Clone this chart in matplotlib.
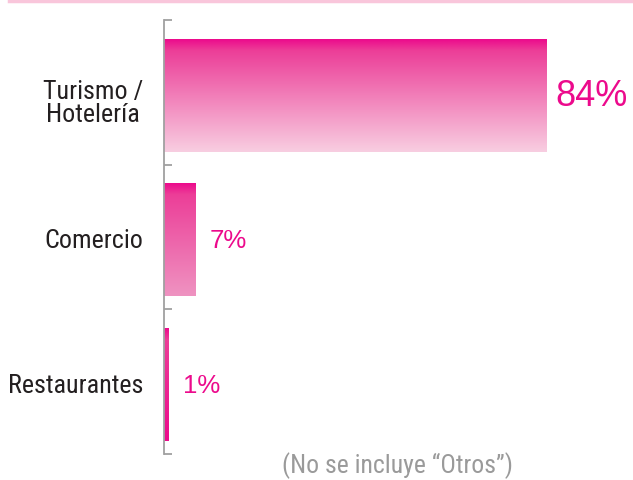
import numpy as np
import matplotlib
matplotlib.use("Agg")
import matplotlib.pyplot as plt
from matplotlib import font_manager
from matplotlib.colors import LinearSegmentedColormap
from matplotlib.lines import Line2D

categories = ["Turismo /\nHotelería", "Comercio", "Restaurantes"]
values = [84, 7, 1]
labels = ["84%", "7%", "1%"]
bottom_colors = ["#F8CEE1", "#EF93C1", "#EC0A8C"]
note = "(No se incluye “Otros”)"

top_color = "#EC0A8C"


# look for a condensed sans, the original uses something like Helvetica Condensed
def pick_condensed():
    wanted = ["Roboto Condensed", "Open Sans Condensed", "Liberation Sans Narrow",
              "Noto Sans Condensed", "DejaVu Sans Condensed"]
    fonts = font_manager.fontManager.ttflist
    for w in wanted:
        for f in fonts:
            if f.name == w and f.weight in (400, "normal", "regular") and f.style == "normal":
                return font_manager.FontProperties(fname=f.fname)
    for f in fonts:
        if f.stretch in ("condensed", "semi-condensed") and f.style == "normal" \
                and f.weight in (400, "normal", "regular") and f.name.split()[0] in ("Roboto", "Open", "Noto", "DejaVu", "Liberation", "Lato", "Inter"):
            return font_manager.FontProperties(fname=f.fname)
    return None


cond = pick_condensed()


def fp(size):
    if cond is not None:
        p = cond.copy()
        p.set_size(size)
        return p
    return font_manager.FontProperties(family="Liberation Sans", size=size * 0.85)


fig = plt.figure(figsize=(6.33, 4.81), dpi=100)
ax = fig.add_axes([164 / 633, 26 / 481, (633 - 164) / 633, 434 / 481])

bar_h = 0.78
for i, (v, c2) in enumerate(zip(values, bottom_colors)):
    cmap = LinearSegmentedColormap.from_list("g%d" % i, [(0, top_color), (0.1, "#EC3E98"), (1, c2)])
    grad = np.linspace(0, 1, 256).reshape(-1, 1)
    yc = i + 0.02
    ax.imshow(grad, cmap=cmap, aspect="auto", interpolation="bilinear",
              extent=[0, v, yc + bar_h / 2, yc - bar_h / 2], zorder=2)
    if i == 0:
        ax.text(v + 2, yc, labels[i], color=top_color, fontsize=26, family="Liberation Sans",
                va="center", ha="left")
    else:
        ax.text(v + 3.1, yc, labels[i], color=top_color, fontsize=18.5, family="Liberation Sans",
                va="center", ha="left")

ax.set_xlim(0, (633 - 164) / 4.55)
ax.set_ylim(2.5, -0.5)
ax.set_yticks([-0.5, 0.5, 1.5, 2.5])
ax.set_yticklabels([])
ax.set_xticks([])
ax.tick_params(axis="y", direction="in", length=6, width=1.3, color="#A0A0A0")
for s in ["top", "right", "bottom"]:
    ax.spines[s].set_visible(False)
ax.spines["left"].set_color("#A0A0A0")
ax.spines["left"].set_linewidth(1.3)

for i, cat in enumerate(categories):
    ax.text(-0.045, i + 0.07 if i == 0 else i + 0.02, cat, transform=ax.get_yaxis_transform(),
            ha="right", va="center", multialignment="center", fontproperties=fp(18.7),
            color="#231F20", linespacing=0.92)

fig.text(397 / 633, 1 - 466 / 481, note, ha="center", va="center", fontproperties=fp(18.5),
         color="#9A9A9A")
fig.add_artist(Line2D([9 / 633, 1], [1 - 2 / 481, 1 - 2 / 481], color="#F9C6DB", lw=2.5,
                      transform=fig.transFigure))

fig.savefig("out.png", dpi=100)
